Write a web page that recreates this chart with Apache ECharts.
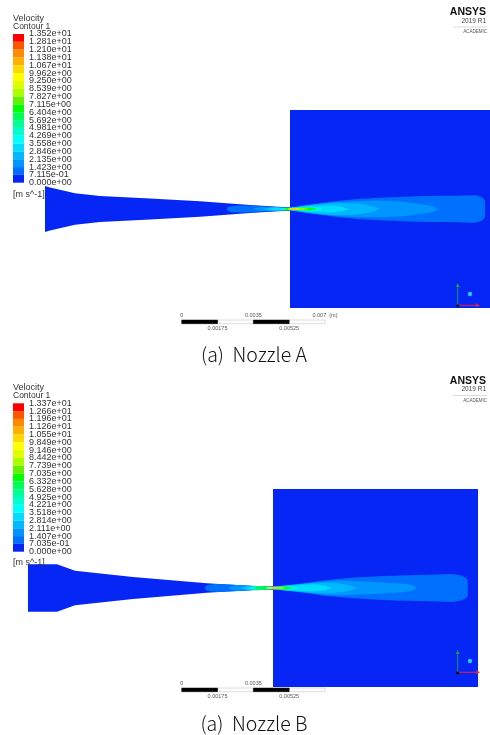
<!DOCTYPE html>
<html>
<head>
<meta charset="utf-8">
<style>
html, body { margin: 0; padding: 0; background: #fff; }
/* the source picture is a soft, upscaled screenshot */
#main { width: 490px; height: 735px; filter: blur(0.4px); }
</style>
<script src="https://cdn.jsdelivr.net/npm/echarts@6/dist/echarts.min.js"></script>
</head>
<body>
<div id="main"></div>
<script>
// colour bands of the legend, top to bottom
var bandColors = ['#ff0000', '#ff5500', '#ff8a00', '#ffb000', '#ffd800', '#ffff00', '#ddff00', '#aaff00', '#66f000', '#00ff00',
  '#00ff55', '#00ff99', '#00ffcc', '#00ffff', '#00ddff', '#00b8ff', '#0095ff', '#0070ff', '#0526f5'];

var labelsA = ['1.352e+01', '1.281e+01', '1.210e+01', '1.138e+01', '1.067e+01', '9.962e+00', '9.250e+00', '8.539e+00', '7.827e+00', '7.115e+00',
  '6.404e+00', '5.692e+00', '4.981e+00', '4.269e+00', '3.558e+00', '2.846e+00', '2.135e+00', '1.423e+00', '7.115e-01', '0.000e+00'];
var labelsB = ['1.337e+01', '1.266e+01', '1.196e+01', '1.126e+01', '1.055e+01', '9.849e+00', '9.146e+00', '8.442e+00', '7.739e+00', '7.035e+00',
  '6.332e+00', '5.628e+00', '4.925e+00', '4.221e+00', '3.518e+00', '2.814e+00', '2.111e+00', '1.407e+00', '7.035e-01', '0.000e+00'];

// scale bar, in mm
var scaleBlack = [[0, 1.75], [3.5, 5.25]];
var scaleWhite = [[1.75, 3.5], [5.25, 7]];
var scaleTopValues = [0, 3.5, 7];
var scaleTopLabels = ['0', '0.0035', '0.007  (m)'];
var scaleBottomValues = [1.75, 5.25];
var scaleBottomLabels = ['0.00175', '0.00525'];

// half profiles [distance from nozzle exit, half height], about 50 um per unit
var wallA = [[-245, 23], [-240, 21.5], [-215, 15.7], [-190, 13], [-140, 10.5], [-90, 7.8], [-40, 4], [0, 1.4]];
var wallB = [[-245, 23.7], [-216, 23.7], [-198, 17.3], [-140, 11], [-66, 4.8], [-13, 1.6], [0, 1.3]];

var contoursA = [
  { band: 17, profile: [[-63, 0], [-62, 2], [-55, 3.3], [-40, 3.4], [-20, 2.3], [0, 1.5], [10, 3], [25, 5], [43, 7.5], [77, 10.5], [127, 12.8], [177, 13.5], [185, 13.7], [191, 12], [194.5, 9], [195, 5], [195, 0]] },
  { band: 16, profile: [[-37, 0], [-30, 1.9], [-15, 1.8], [0, 1.3], [20, 4], [43, 6.5], [77, 8.3], [110, 7.5], [130, 5], [142, 3], [148, 0]] },
  { band: 15, profile: [[-27, 0], [-20, 1.5], [-10, 1.5], [0, 1.2], [15, 3.5], [40, 6], [62, 5.7], [80, 3.5], [90, 0]] },
  { band: 14, profile: [[-22, 0], [-15, 1.3], [0, 1.1], [15, 2.4], [35, 3.6], [50, 2.6], [60, 0]] },
  { band: 12, profile: [[-10, 0], [-6, 1], [0, 1], [15, 1.7], [28, 1.2], [33, 0]] },
  { band: 9, profile: [[-6, 0], [-3, 0.9], [0, 1], [20, 1.2], [27, 0]] },
  { band: 6, profile: [[-3, 0], [0, 0.8], [10, 0.8], [20, 0]] },
  { band: 3, profile: [[-1, 0], [2, 0.4], [6, 0.4], [8, 0]] }
];
var contoursB = [
  { band: 17, profile: [[-68, 0], [-67, 2], [-60, 3.8], [-45, 3.6], [-20, 2.3], [0, 1.8], [27, 4.2], [60, 8.6], [110, 11.9], [160, 13.3], [180, 13.7], [189, 12], [194, 9], [194.7, 5], [194.7, 0]] },
  { band: 16, profile: [[-45, 0], [-38, 2.4], [-20, 2], [0, 1.5], [27, 4], [60, 7.3], [94, 6.2], [127, 4.4], [140, 2.6], [143.7, 0]] },
  { band: 15, profile: [[-33, 0], [-27, 1.9], [-15, 1.7], [0, 1.3], [27, 3.8], [50, 5.2], [70, 4], [85, 0]] },
  { band: 14, profile: [[-28, 0], [-22, 1.6], [0, 1.2], [20, 2.8], [40, 3.4], [52, 2.2], [58.5, 0]] },
  { band: 12, profile: [[-23, 0], [-18, 1.4], [0, 1.1], [15, 1.7], [27, 0]] },
  { band: 9, profile: [[-20, 0], [-14, 1.1], [0, 1], [12, 1.2], [20, 0]] },
  { band: 5, profile: [[-8, 0], [-4, 0.8], [6, 0.8], [13, 0]] },
  { band: 2, profile: [[-3, 0], [0, 0.5], [6, 0.5], [9, 0]] }
];

var textColor = '#333';
var uiFont = '"Liberation Sans", Arial, sans-serif';

var grids = [], xAxes = [], yAxes = [], series = [], graphics = [];

// closes a half profile by mirroring it about the axis
function mirror(profile) {
  var upper = profile.map(function (p) { return [p[0], p[1]]; });
  var lower = profile.slice().reverse().map(function (p) { return [p[0], -p[1]]; });
  return upper.concat(lower);
}

function polygonSeries(xIdx, yIdx, points, color, smooth) {
  series.push({
    type: 'custom',
    xAxisIndex: xIdx,
    yAxisIndex: yIdx,
    silent: true,
    clip: true,
    data: points,
    renderItem: function (params, api) {
      if (params.dataIndex !== 0) return;
      return {
        type: 'polygon',
        shape: { points: points.map(function (p) { return api.coord(p); }), smooth: smooth || 0 },
        style: { fill: color }
      };
    }
  });
}

function addPanel(cfg) {
  // contour plot
  var g = grids.length, xi = xAxes.length, yi = yAxes.length;
  grids.push({ left: cfg.plotLeft, top: cfg.plotTop, width: cfg.plotWidth, height: cfg.plotHeight });
  xAxes.push({ type: 'value', gridIndex: g, min: cfg.xRange[0], max: cfg.xRange[1], show: false });
  yAxes.push({ type: 'value', gridIndex: g, min: -cfg.halfRange, max: cfg.halfRange, show: false });
  polygonSeries(xi, yi, [[0, -cfg.halfRange], [cfg.xRange[1], -cfg.halfRange], [cfg.xRange[1], cfg.halfRange], [0, cfg.halfRange]], bandColors[18]);
  polygonSeries(xi, yi, mirror(cfg.wall), bandColors[18]);
  cfg.contours.forEach(function (c) {
    polygonSeries(xi, yi, mirror(c.profile), bandColors[c.band], 0.35);
  });

  // legend colour bar
  g = grids.length; xi = xAxes.length; yi = yAxes.length;
  grids.push({ left: 13, top: cfg.barTop, width: 11, height: cfg.barHeight });
  xAxes.push({ type: 'value', gridIndex: g, min: 0, max: 1, show: false });
  yAxes.push({
    type: 'category', gridIndex: g, data: cfg.labels, inverse: true, boundaryGap: false, position: 'right',
    axisLine: { show: false }, axisTick: { show: false }, splitLine: { show: false },
    axisLabel: { interval: 0, margin: 5, align: 'left', color: textColor, fontSize: 9, fontFamily: uiFont, padding: [7, 0, 0, 0], hideOverlap: false }
  });
  series.push({
    type: 'custom', xAxisIndex: xi, yAxisIndex: yi, silent: true,
    data: bandColors.map(function (c, i) { return [0, i]; }),
    renderItem: function (params, api) {
      var i = params.dataIndex;
      var a = api.coord([0, i]), b = api.coord([1, i + 1]);
      return { type: 'rect', shape: { x: a[0], y: a[1], width: b[0] - a[0], height: b[1] - a[1] }, style: { fill: bandColors[i] } };
    }
  });

  // scale bar
  g = grids.length; xi = xAxes.length; yi = yAxes.length;
  grids.push({ left: 181.7, top: cfg.scaleTop, width: 143.3, height: 3.7 });
  xAxes.push({
    type: 'value', gridIndex: g, min: 0, max: 7, position: 'top',
    axisLine: { show: false }, axisTick: { show: false }, splitLine: { show: false },
    axisLabel: {
      customValues: scaleTopValues, margin: 2, color: '#555', fontSize: 5.5, fontFamily: uiFont, showMinLabel: true, showMaxLabel: true,
      formatter: function (v) { return scaleTopLabels[scaleTopValues.indexOf(v)]; }
    }
  });
  yAxes.push({ type: 'value', gridIndex: g, min: 0, max: 1, show: false });
  xAxes.push({
    type: 'value', gridIndex: g, min: 0, max: 7, position: 'bottom',
    axisLine: { show: false }, axisTick: { show: false }, splitLine: { show: false },
    axisLabel: {
      customValues: scaleBottomValues, margin: 2, color: '#555', fontSize: 5.5, fontFamily: uiFont,
      formatter: function (v) { return scaleBottomLabels[scaleBottomValues.indexOf(v)]; }
    }
  });
  var scaleRect = function (rows, fill, stroke) {
    series.push({
      type: 'custom', xAxisIndex: xi, yAxisIndex: yi, silent: true, data: rows,
      renderItem: function (params, api) {
        var r = rows[params.dataIndex];
        var a = api.coord([r[0], 1]), b = api.coord([r[1], 0]);
        return { type: 'rect', shape: { x: a[0], y: a[1], width: b[0] - a[0], height: b[1] - a[1] }, style: { fill: fill, stroke: stroke, lineWidth: 0.5 } };
      }
    });
  };
  scaleRect(scaleWhite, '#fff', '#bbb');
  scaleRect(scaleBlack, '#000', '#000');

  // headings, unit, logo, caption
  var text = function (x, y, str, size, extra) {
    graphics.push({
      type: 'text', x: x, y: y, z: 100, silent: true,
      style: Object.assign({ text: str, fontSize: size, fontFamily: uiFont, fill: textColor, align: 'left', verticalAlign: 'middle' }, extra || {})
    });
  };
  text(13, cfg.headY, 'Velocity', 9);
  text(13, cfg.headY + 7.7, 'Contour 1', 8.5);
  text(13, cfg.unitY, '[m s^-1]', 9);
  text(486, cfg.logoY, 'ANSYS', 10.5, { fontWeight: 'bold', fontFamily: '"Liberation Sans Narrow", "Liberation Sans"', fill: '#111', align: 'right' });
  text(486, cfg.logoY + 8.5, '2019 R1', 6.5, { align: 'right', fill: '#444' });
  graphics.push({ type: 'line', z: 100, silent: true, shape: { x1: 453, y1: cfg.logoY + 14.5, x2: 487, y2: cfg.logoY + 14.5 }, style: { stroke: '#ccc', lineWidth: 0.7 } });
  text(487, cfg.logoY + 19.5, 'ACADEMIC', 4.5, { align: 'right', fill: '#555', letterSpacing: 1.8 });
  text(254, cfg.captionY, cfg.caption, 19.5, { align: 'center', fontFamily: '"Noto Sans CJK KR"', fontWeight: 300, fill: '#111' });

  // axis triad
  var ty = cfg.triadY;
  graphics.push({ type: 'circle', z: 100, silent: true, shape: { cx: 470, cy: ty - 12, r: 2.2 }, style: { fill: '#22c8ff' } });
  graphics.push({ type: 'line', z: 100, silent: true, shape: { x1: 457.7, y1: ty, x2: 457.7, y2: ty - 21 }, style: { stroke: '#1e9a50', lineWidth: 1 } });
  graphics.push({ type: 'polygon', z: 100, silent: true, shape: { points: [[455.7, ty - 19], [459.7, ty - 19], [457.7, ty - 23]] }, style: { fill: '#1e9a50' } });
  graphics.push({ type: 'line', z: 100, silent: true, shape: { x1: 457.7, y1: ty - 0.7, x2: 477, y2: ty - 0.7 }, style: { stroke: '#e8203a', lineWidth: 1 } });
  graphics.push({ type: 'polygon', z: 100, silent: true, shape: { points: [[476, ty - 2.7], [476, ty + 1.3], [480, ty - 0.7]] }, style: { fill: '#e8203a' } });
  graphics.push({ type: 'circle', z: 100, silent: true, shape: { cx: 457.7, cy: ty, r: 1.5 }, style: { fill: '#111' } });
}

addPanel({
  plotLeft: 45, plotTop: 110, plotWidth: 445, plotHeight: 198,
  xRange: [-245, 200], halfRange: 99, wall: wallA, contours: contoursA,
  barTop: 34, barHeight: 148.7, labels: labelsA,
  scaleTop: 320, headY: 18.5, unitY: 195, logoY: 12.5, captionY: 355, triadY: 306, caption: '(a)  Nozzle A'
});
addPanel({
  plotLeft: 28, plotTop: 489, plotWidth: 450, plotHeight: 198,
  xRange: [-245, 205], halfRange: 99, wall: wallB, contours: contoursB,
  barTop: 403.3, barHeight: 148.4, labels: labelsB,
  scaleTop: 688, headY: 387.5, unitY: 563, logoY: 381, captionY: 724, triadY: 673, caption: '(a)  Nozzle B'
});

var chart = echarts.init(document.getElementById('main'));
chart.setOption({
  animation: false,
  backgroundColor: '#fff',
  grid: grids,
  xAxis: xAxes,
  yAxis: yAxes,
  series: series,
  graphic: graphics
});
</script>
</body>
</html>
